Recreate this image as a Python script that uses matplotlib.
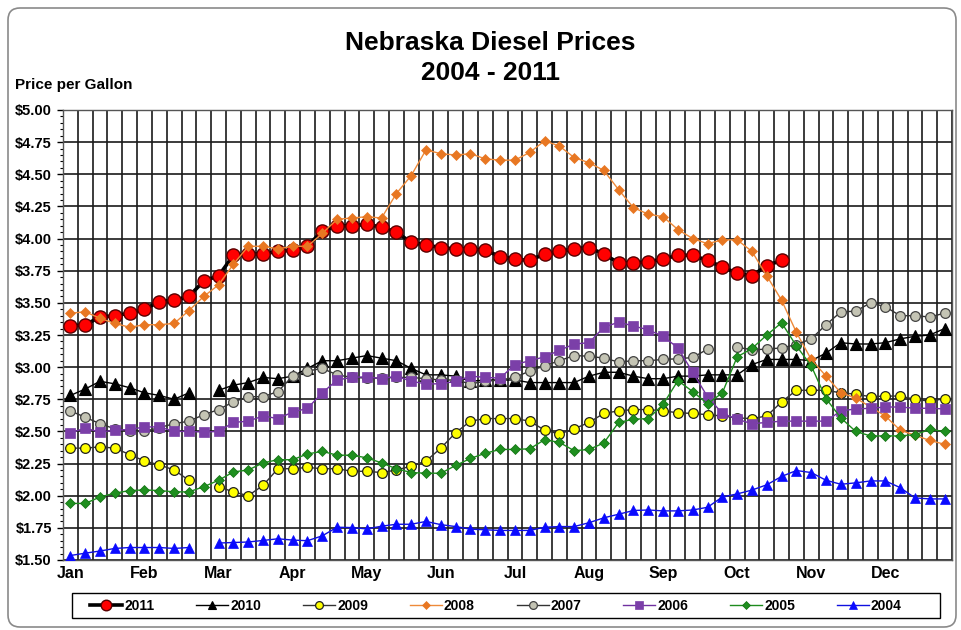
import numpy as np
import matplotlib
matplotlib.use("Agg")
import matplotlib.pyplot as plt
from matplotlib.patches import FancyBboxPatch, Rectangle
from matplotlib.transforms import IdentityTransform
from matplotlib.ticker import MultipleLocator, FuncFormatter

nan = np.nan
months = ["Jan", "Feb", "Mar", "Apr", "May", "Jun", "Jul", "Aug", "Sep", "Oct", "Nov", "Dec"]
slots_per_month = 5

p2011 = [3.32, 3.33, 3.39, 3.40, 3.42, 3.45, 3.51, 3.52, 3.55, 3.67, 3.71, 3.87, 3.88, 3.88, 3.90,
         3.91, 3.94, 4.06, 4.10, 4.10, 4.11, 4.09, 4.05, 3.97, 3.95, 3.93, 3.92, 3.92, 3.91, 3.86,
         3.84, 3.83, 3.88, 3.90, 3.92, 3.93, 3.88, 3.81, 3.81, 3.82, 3.84, 3.87, 3.87, 3.83, 3.78,
         3.73, 3.71, 3.79, 3.83] + [nan] * 11
p2010 = [2.78, 2.83, 2.89, 2.87, 2.84, 2.80, 2.78, 2.75, 2.80, nan, 2.82, 2.86, 2.88, 2.92, 2.91,
         2.93, 2.99, 3.05, 3.05, 3.07, 3.09, 3.07, 3.05, 2.99, 2.94, 2.94, 2.93, 2.89, 2.90, 2.90,
         2.90, 2.88, 2.88, 2.88, 2.88, 2.93, 2.96, 2.96, 2.93, 2.91, 2.91, 2.93, 2.93, 2.94, 2.94,
         2.94, 3.02, 3.06, 3.06, 3.06, 3.05, 3.11, 3.19, 3.18, 3.18, 3.19, 3.22, 3.24, 3.25, 3.30]
p2009 = [2.37, 2.37, 2.38, 2.37, 2.32, 2.27, 2.24, 2.20, 2.12, nan, 2.07, 2.03, 2.00, 2.08, 2.21,
         2.21, 2.22, 2.21, 2.21, 2.19, 2.19, 2.18, 2.20, 2.23, 2.27, 2.37, 2.49, 2.58, 2.60, 2.60,
         2.60, 2.58, 2.51, 2.48, 2.52, 2.57, 2.64, 2.66, 2.67, 2.67, 2.66, 2.645, 2.64, 2.63, 2.62,
         2.605, 2.60, 2.62, 2.73, 2.82, 2.82, 2.82, 2.80, 2.79, 2.77, 2.775, 2.775, 2.75, 2.735, 2.755]
p2008 = [3.42, 3.43, 3.38, 3.34, 3.31, 3.33, 3.33, 3.34, 3.44, 3.55, 3.64, 3.80, 3.94, 3.94, 3.92,
         3.94, 3.94, 4.04, 4.15, 4.16, 4.17, 4.16, 4.35, 4.49, 4.69, 4.66, 4.65, 4.66, 4.62, 4.61,
         4.61, 4.67, 4.76, 4.72, 4.63, 4.59, 4.53, 4.38, 4.24, 4.19, 4.17, 4.07, 4.00, 3.96, 3.99,
         3.99, 3.90, 3.71, 3.52, 3.27, 3.06, 2.93, 2.80, 2.76, 2.69, 2.62, 2.51, 2.47, 2.43, 2.40]
p2007 = [2.66, 2.61, 2.56, 2.52, 2.50, 2.50, 2.53, 2.56, 2.58, 2.63, 2.67, 2.73, 2.77, 2.77, 2.81,
         2.93, 2.97, 2.99, 2.94, 2.92, 2.915, 2.915, 2.92, 2.92, 2.91, 2.90, 2.90, 2.87, 2.89, 2.90,
         2.92, 2.97, 3.01, 3.05, 3.09, 3.085, 3.07, 3.04, 3.05, 3.05, 3.06, 3.065, 3.075, 3.14, nan,
         3.155, 3.135, 3.14, 3.15, 3.175, 3.22, 3.33, 3.43, 3.435, 3.50, 3.47, 3.40, 3.40, 3.39, 3.42]
p2006 = [2.49, 2.525, 2.495, 2.51, 2.515, 2.535, 2.535, 2.50, 2.50, 2.495, 2.50, 2.57, 2.58, 2.62, 2.60,
         2.65, 2.68, 2.80, 2.90, 2.92, 2.925, 2.91, 2.93, 2.89, 2.87, 2.87, 2.89, 2.93, 2.92, 2.915,
         3.02, 3.05, 3.08, 3.13, 3.18, 3.19, 3.31, 3.35, 3.32, 3.29, 3.24, 3.15, 2.96, 2.77, 2.64,
         2.595, 2.56, 2.57, 2.58, 2.58, 2.58, 2.58, 2.66, 2.675, 2.68, 2.69, 2.69, 2.68, 2.68, 2.675]
p2005 = [1.94, 1.94, 1.99, 2.02, 2.04, 2.045, 2.04, 2.03, 2.03, 2.07, 2.12, 2.185, 2.20, 2.255, 2.28,
         2.28, 2.325, 2.345, 2.315, 2.315, 2.295, 2.255, 2.21, 2.18, 2.175, 2.175, 2.235, 2.29, 2.33, 2.36,
         2.36, 2.365, 2.435, 2.415, 2.35, 2.36, 2.41, 2.57, 2.595, 2.60, 2.71, 2.895, 2.81, 2.715, 2.80,
         3.08, 3.145, 3.25, 3.345, 3.165, 3.01, 2.755, 2.605, 2.50, 2.465, 2.465, 2.465, 2.475, 2.515, 2.50]
p2004 = [1.535, 1.553, 1.57, 1.59, 1.597, 1.597, 1.597, 1.59, 1.597, nan, 1.632, 1.636, 1.64, 1.652, 1.665,
         1.655, 1.65, 1.688, 1.755, 1.752, 1.742, 1.763, 1.778, 1.778, 1.80, 1.775, 1.76, 1.74, 1.735, 1.73,
         1.73, 1.73, 1.755, 1.76, 1.76, 1.79, 1.828, 1.856, 1.885, 1.889, 1.882, 1.882, 1.889, 1.91, 1.99,
         2.014, 2.044, 2.085, 2.15, 2.196, 2.18, 2.12, 2.089, 2.10, 2.115, 2.115, 2.063, 1.983, 1.975, 1.975]

years = ["2011", "2010", "2009", "2008", "2007", "2006", "2005", "2004"]
series = [p2011, p2010, p2009, p2008, p2007, p2006, p2005, p2004]

styles = {
    "2011": dict(color="black", lw=2.6, marker="o", ms=9.5, mfc="#ff0000", mec="#5a0000", mew=1.0),
    "2010": dict(color="black", lw=1.0, marker="^", ms=8, mfc="black", mec="black", mew=0.8),
    "2009": dict(color="#333333", lw=1.0, marker="o", ms=7, mfc="#ffff00", mec="#222222", mew=0.9),
    "2008": dict(color="#ee8a3a", lw=1.0, marker="D", ms=5, mfc="#e87722", mec="#e87722", mew=0.5),
    "2007": dict(color="#333333", lw=1.0, marker="o", ms=7, mfc="#c4c4b4", mec="#444444", mew=0.9),
    "2006": dict(color="#7030a0", lw=1.0, marker="s", ms=7.5, mfc="#7b3fa8", mec="#7b3fa8", mew=0.5),
    "2005": dict(color="#1e8c1e", lw=1.0, marker="D", ms=5.5, mfc="#1f8f1f", mec="#0f6f0f", mew=0.5),
    "2004": dict(color="#1010e0", lw=1.0, marker="^", ms=7.5, mfc="#0a0aff", mec="#0a0aff", mew=0.5),
}

plt.rcParams['font.family'] = ['Liberation Sans', 'DejaVu Sans']

fig = plt.figure(figsize=(9.61, 6.30), dpi=100)
fig.patch.set_facecolor("white")

# outer rounded frame
frame = FancyBboxPatch((8, 3), 948, 619, boxstyle="round,pad=0,rounding_size=12",
                       transform=IdentityTransform(), facecolor="none", edgecolor="#8a8a8a", lw=1.2)
fig.add_artist(frame)

L, R, T, B = 63, 952, 110, 560
ax = fig.add_axes([L / 961, 1 - B / 630, (R - L) / 961, (B - T) / 630])

n = len(months) * slots_per_month
x = np.arange(n)
for i, (yr, vals) in enumerate(zip(years, series)):
    st = styles[yr]
    ax.plot(x, np.array(vals, dtype=float), label=yr, zorder=3 + i, **st)

ax.set_xlim(-0.5, n - 0.5)
ax.set_ylim(1.5, 5.0)

# grid
for k in range(n + 1):
    ax.axvline(k - 0.5, color="#1a1a1a", lw=1.2, zorder=1)
for v in np.arange(1.5, 5.01, 0.25):
    ax.axhline(v, color="#1a1a1a", lw=1.2, zorder=1)

ax.yaxis.set_major_locator(MultipleLocator(0.25))
ax.yaxis.set_minor_locator(MultipleLocator(0.05))
ax.yaxis.set_major_formatter(FuncFormatter(lambda v, p: f"${v:.2f}"))
ax.tick_params(axis="y", which="major", length=4, width=1, labelsize=10.5, pad=4)
ax.tick_params(axis="y", which="minor", length=2.5, width=0.8)
for lab in ax.get_yticklabels():
    lab.set_fontweight("bold")

ax.set_xticks(np.arange(0, n, slots_per_month))
ax.set_xticklabels(months, fontweight="bold", fontsize=11.5)
ax.tick_params(axis="x", length=0, pad=4)
for s in ax.spines.values():
    s.set_color("#555555")
    s.set_linewidth(1.0)

fig.text(0.51, 0.931, "Nebraska Diesel Prices", ha="center", va="center",
         fontsize=19, fontweight="bold")
fig.text(0.51, 0.884, "2004 - 2011", ha="center", va="center",
         fontsize=19, fontweight="bold")
fig.text(15 / 961, 1 - 85 / 630, "Price per Gallon", ha="left", va="center",
         fontsize=11, fontweight="bold")

# legend box
fig.add_artist(Rectangle((72, 630 - 618), 868, 25, transform=IdentityTransform(),
                         facecolor="white", edgecolor="black", lw=1.0, zorder=5))
handles, labels = ax.get_legend_handles_labels()
leg = fig.legend(handles, labels, loc="center", ncol=8, mode="expand",
                 bbox_to_anchor=(86 / 961, 1 - 618 / 630, 820 / 961, 25 / 630),
                 frameon=False, prop=dict(weight="bold", size=10),
                 handlelength=2.3, handletextpad=0.15,
                 markerscale=0.8, borderaxespad=0, borderpad=0.3)
leg.set_zorder(6)

fig.savefig("out.png", dpi=100, facecolor="white")
